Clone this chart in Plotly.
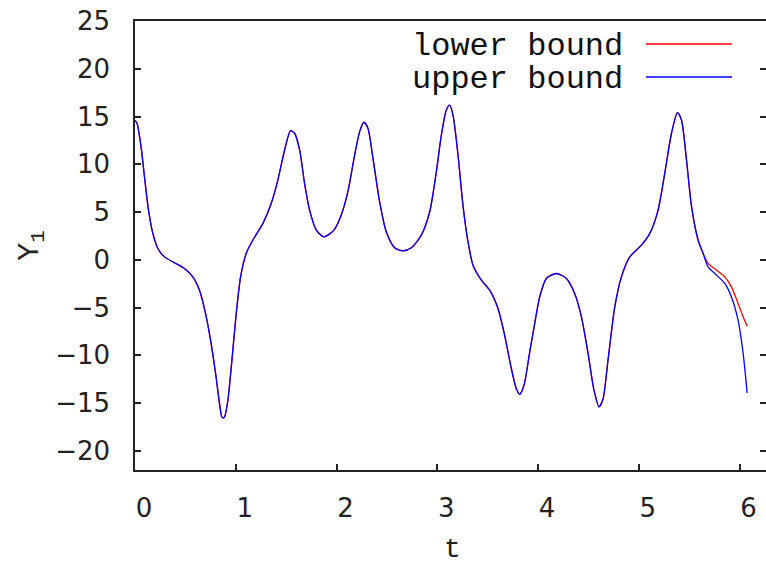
import plotly.graph_objects as go

# time samples (shared)
t = [0.0, 0.02, 0.06, 0.094, 0.134, 0.177, 0.227, 0.293, 0.392, 0.49, 0.574, 0.64, 0.70, 0.75, 0.80,
     0.839, 0.862, 0.875, 0.889, 0.922, 0.962, 1.005, 1.048, 1.104, 1.17, 1.27, 1.352, 1.418, 1.485,
     1.544, 1.584, 1.634, 1.683, 1.733, 1.80, 1.875, 1.975, 2.047, 2.113, 2.18, 2.23, 2.272, 2.312,
     2.362, 2.428, 2.494, 2.577, 2.66, 2.743, 2.842, 2.925, 2.991, 3.041, 3.09, 3.123, 3.156, 3.206,
     3.255, 3.305, 3.355, 3.438, 3.52, 3.603, 3.669, 3.736, 3.785, 3.818, 3.861, 3.918, 3.965, 4.017,
     4.083, 4.183, 4.282, 4.364, 4.431, 4.497, 4.556, 4.606, 4.646, 4.695, 4.762, 4.828, 4.911, 5.027,
     5.11, 5.192, 5.258, 5.325, 5.384, 5.424, 5.474, 5.524, 5.589, 5.639, 5.688, 5.772, 5.854, 5.92,
     5.986, 6.036, 6.076]

common = [14.6, 14.3, 11.85, 8.7, 5.2, 2.77, 1.19, 0.31, -0.31, -0.9, -1.78, -3.18, -5.6, -8.4, -11.9,
          -15.05, -16.45, -16.55, -16.45, -14.7, -10.5, -5.6, -1.78, 0.67, 2.07, 3.82, 5.9, 8.35, 11.5,
          13.52, 13.25, 11.5, 8.0, 5.2, 3.11, 2.41, 3.11, 4.69, 7.13, 10.97, 13.42, 14.4, 13.77,
          10.63, 6.08, 2.93, 1.26, 0.94, 1.26, 2.59, 5.03, 9.22, 13.07, 15.69, 16.2, 15.17, 10.97,
          5.73, 1.89, -0.56, -2.13, -3.18, -5.1, -7.9, -11.4, -13.5, -14.08, -13.13, -9.64, -6.8, -3.88,
          -1.95, -1.43, -1.95, -3.52, -5.97, -9.8, -13.66, -15.4, -14.53, -10.5, -4.93, -1.78, 0.31, 1.54,
          2.77, 5.21, 9.06, 13.25, 15.41, 14.64, 10.45, 5.56, 2.07, 0.67]

lower_tail = [-0.38, -1.08, -1.78, -2.83, -4.57, -5.97, -6.95]
upper_tail = [-0.73, -1.6, -2.47, -3.88, -6.32, -9.8, -13.94]

lower = common + lower_tail
upper = common + upper_tail

x_ticks = [0, 1, 2, 3, 4, 5, 6]
y_ticks = [-20, -15, -10, -5, 0, 5, 10, 15, 20, 25]
y_labels = ["\u221220", "\u221215", "\u221210", "\u22125", "0", "5", "10", "15", "20", "25"]

series_names = ["lower bound", "upper bound"]
series_colors = ["#ff0000", "#0000ff"]
x_title = "t"
y_title = "Y<sub>1</sub>"

fig = go.Figure()
for yv, nm, col in zip([lower, upper], series_names, series_colors):
    fig.add_trace(go.Scatter(x=t, y=yv, mode="lines", name=nm,
                             line=dict(color=col, width=1.3, shape="spline", smoothing=0.7)))

W, H = 766, 566
ML, MR, MT, MB = 135, 0, 21, 96
pw, ph = W - ML - MR, H - MT - MB

def px2paper(px, py):
    return (px - ML) / pw, (H - MB - py) / ph

axis_col = "#222222"
mono = "Liberation Mono, Courier New, Courier, monospace"
tick_font = dict(family="DejaVu Sans", size=26, color="#222222")

fig.update_layout(
    width=W, height=H,
    margin=dict(l=ML, r=MR, t=MT, b=MB, autoexpand=False),
    plot_bgcolor="white", paper_bgcolor="white",
    showlegend=False,
    xaxis=dict(range=[0, 6.263], tickvals=x_ticks, ticktext=[str(v) for v in x_ticks],
               ticks="inside", ticklen=6, tickwidth=1.5, tickcolor=axis_col,
               showline=True, linecolor=axis_col, linewidth=1.5, mirror=True,
               showgrid=False, zeroline=False, tickfont=tick_font, automargin=False,
               ticklabelshift=9, ticklabelstandoff=14),
    yaxis=dict(range=[-22, 25], tickvals=y_ticks, ticktext=y_labels,
               ticks="inside", ticklen=6, tickwidth=1.5, tickcolor=axis_col,
               showline=True, linecolor=axis_col, linewidth=1.5, mirror="ticks",
               showgrid=False, zeroline=False, tickfont=tick_font, automargin=False,
               ticklabelstandoff=18,
               title=dict(text=y_title, font=dict(family=mono, size=30, color="#222222"),
                          standoff=8)),
)

# x-axis title placed as text below the tick labels
tx, ty = px2paper(452, 549)
fig.add_annotation(x=tx, y=ty, xref="paper", yref="paper", text=x_title, showarrow=False,
                   xanchor="center", yanchor="middle",
                   font=dict(family=mono, size=28, color="#222222"))

# gnuplot-style key: text then line sample on the right
key_rows = [46, 79]
for name, col, ry in zip(series_names, series_colors, key_rows):
    ax, ay = px2paper(625, ry)
    fig.add_annotation(x=ax, y=ay, xref="paper", yref="paper", text=name, showarrow=False,
                       xanchor="right", yanchor="middle",
                       font=dict(family=mono, size=32, color="#111111"))
    x0, y0 = px2paper(646, ry - 2)
    x1, _ = px2paper(732, ry - 2)
    fig.add_shape(type="line", xref="paper", yref="paper", x0=x0, x1=x1, y0=y0, y1=y0,
                  line=dict(color=col, width=1.3))

fig.write_html("out.html", config={"displayModeBar": False},
               post_script="document.body.style.margin='0';document.body.style.overflow='hidden';")
